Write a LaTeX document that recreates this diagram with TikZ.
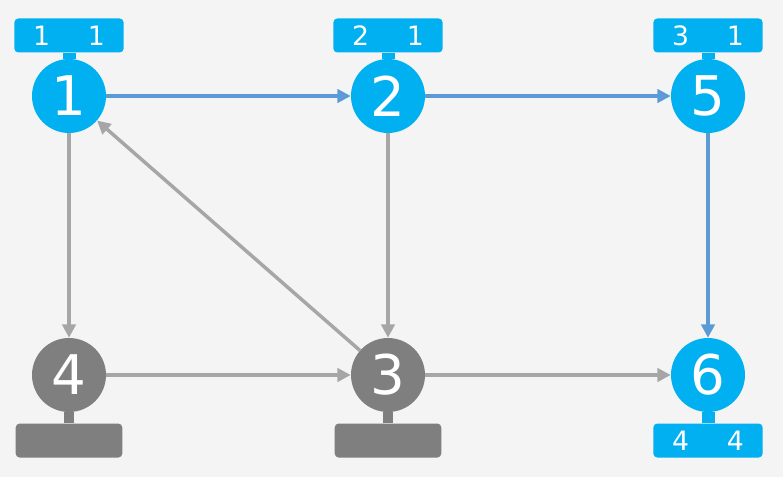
\documentclass[tikz,border=0pt]{standalone}
\usepackage{fontspec}
\setmainfont{DejaVu Sans}
\usetikzlibrary{positioning, arrows.meta}
\definecolor{nodeblue}{HTML}{00B0F0}
\definecolor{nodegray}{HTML}{7F7F7F}
\definecolor{edgeblue}{HTML}{5B9BD5}
\definecolor{edgegray}{HTML}{A6A6A6}
\definecolor{bgcolor}{HTML}{F4F4F4}

\begin{document}
\begin{tikzpicture}[x=0.75pt, y=-0.75pt,
    vertex/.style={circle, fill=nodeblue, text=white, minimum size=55.5pt, inner sep=0pt, font=\fontsize{41}{41}\selectfont},
    grayvertex/.style={vertex, fill=nodegray},
    tag/.style={rectangle, fill=nodeblue, text=white, minimum width=80pt, minimum height=25.5pt, rounded corners=3pt, inner sep=0pt, font=\fontsize{20}{20}\selectfont},
    graytag/.style={tag, fill=nodegray},
    stem/.style={draw=nodeblue, line width=9.75pt},
    graystem/.style={draw=nodegray, line width=7.5pt},
    link/.style={draw=edgegray, line width=2.6pt, -{Triangle[length=10pt, width=10pt]}},
    bluelink/.style={link, draw=edgeblue}]

    % Background
    \useasboundingbox (0,0) rectangle (783,476);
    \fill[bgcolor] (-12,-12) rectangle (795,488);

    % Vertices
    \node[vertex] (n1) at (69,96) {1};
    \node[vertex] (n2) at (388,96) {2};
    \node[vertex] (n5) at (708,96) {5};
    \node[grayvertex] (n4) at (69,375) {4};
    \node[grayvertex] (n3) at (388,375) {3};
    \node[vertex] (n6) at (708,375) {6};

    % Tags above and below the vertices
    \node[tag] (t1) [above=4.5pt of n1] {\makebox[41pt]{1}\makebox[41pt]{1}};
    \node[tag] (t2) [above=4.5pt of n2] {\makebox[41pt]{2}\makebox[41pt]{1}};
    \node[tag] (t5) [above=4.5pt of n5] {\makebox[41pt]{3}\makebox[41pt]{1}};
    \node[graytag] (t4) [below=8.25pt of n4] {};
    \node[graytag] (t3) [below=8.25pt of n3] {};
    \node[tag] (t6) [below=8.25pt of n6] {\makebox[41pt]{4}\makebox[41pt]{4}};

    % Stems joining tags to vertices
    \draw[stem] (t1.south) -- (n1.north);
    \draw[stem] (t2.south) -- (n2.north);
    \draw[stem] (t5.south) -- (n5.north);
    \draw[graystem] (t4.north) -- (n4.south);
    \draw[graystem] (t3.north) -- (n3.south);
    \draw[stem] (t6.north) -- (n6.south);

    % Blue edges
    \draw[bluelink] (n1) -- (n2);
    \draw[bluelink] (n2) -- (n5);
    \draw[bluelink] (n5) -- (n6);

    % Gray edges
    \draw[link] (n1) -- (n4);
    \draw[link] (n2) -- (n3);
    \draw[link] (n4) -- (n3);
    \draw[link] (n3) -- (n1);
    \draw[link] (n3) -- (n6);

\end{tikzpicture}
\end{document}
